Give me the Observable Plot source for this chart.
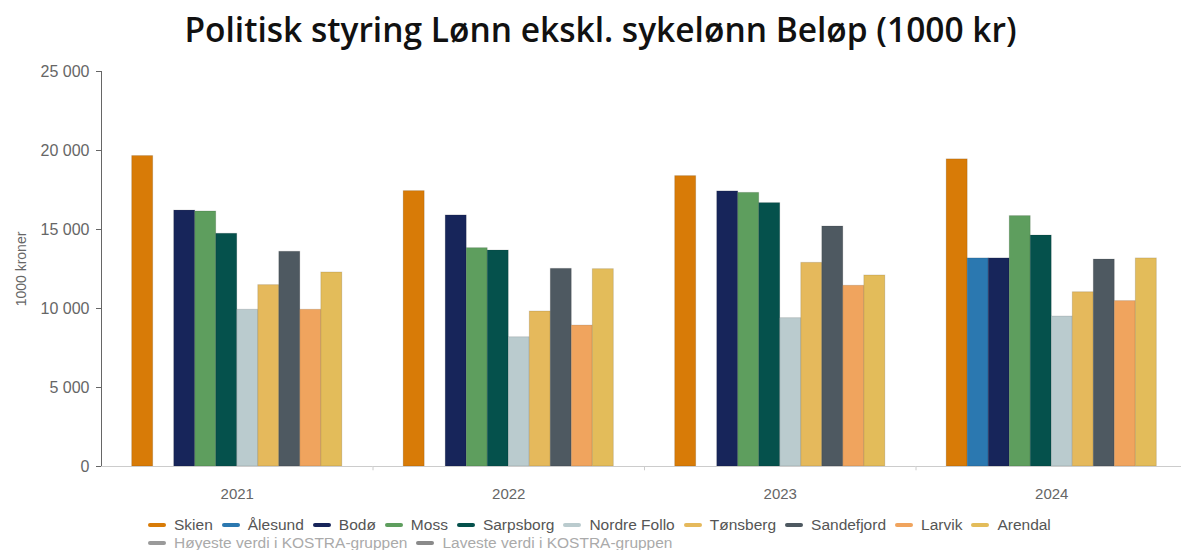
<!DOCTYPE html>
<html>
<head>
<meta charset="utf-8">
<script src="https://cdn.jsdelivr.net/npm/d3@7"></script>
<script src="https://cdn.jsdelivr.net/npm/@observablehq/plot@0.6"></script>
<style>
  html, body { margin: 0; padding: 0; background: #fff; overflow: hidden; }
  #title { height: 60px; line-height: 58px; text-align: center; padding-left: 20px;
    font-family: "Open Sans", sans-serif; font-weight: 600; font-size: 33.5px; color: #111; white-space: nowrap; }
  #legend { font-family: "Liberation Sans", Arial, sans-serif; font-size: 15.5px; line-height: 18px; padding-left: 148px; }
  .row { display: flex; align-items: center; white-space: nowrap; }
  .item { display: flex; align-items: center; margin-right: 9px; }
  .sw { display: inline-block; width: 18px; height: 4px; border-radius: 2px; margin-right: 8px; }
</style>
</head>
<body>
<div id="title">Politisk styring Lønn ekskl. sykelønn Beløp (1000 kr)</div>
<div id="chart"></div>
<div id="legend"></div>
<script>
const years = ["2021", "2022", "2023", "2024"];
const kommuner = ["Skien", "Ålesund", "Bodø", "Moss", "Sarpsborg", "Nordre Follo", "Tønsberg", "Sandefjord", "Larvik", "Arendal"];
const colors = ["#D87B07", "#2B78B0", "#17255A", "#5E9E5E", "#05514C", "#BACBCE", "#E5B95C", "#4E5961", "#F0A45E", "#E3BC5A"];

const skien       = [19650, 17430, 18380, 19440];
const alesund     = [null, null, null, 13170];
const bodo        = [16200, 15890, 17410, 13170];
const moss        = [16140, 13820, 17320, 15850];
const sarpsborg   = [14730, 13670, 16670, 14620];
const nordreFollo = [9920, 8180, 9390, 9490];
const tonsberg    = [11480, 9810, 12890, 11030];
const sandefjord  = [13590, 12510, 15190, 13100];
const larvik      = [9920, 8920, 11440, 10470];
const arendal     = [12280, 12490, 12090, 13170];

const yTicks = [0, 5000, 10000, 15000, 20000, 25000];
const extraLegend = [["Høyeste verdi i KOSTRA-gruppen", "#9a9a9a"], ["Laveste verdi i KOSTRA-gruppen", "#8a8a8a"]];

const series = [skien, alesund, bodo, moss, sarpsborg, nordreFollo, tonsberg, sandefjord, larvik, arendal];
const data = [];
kommuner.forEach((k, i) => years.forEach((y, j) => {
  if (series[i][j] != null) data.push({kommune: k, year: y, value: series[i][j]});
}));

const fmt = d => d3.format(",")(d).replace(/,/g, " ");
const po = 1.46;
const nK = kommuner.length;

const width = 1181, height = 456, mL = 101, mR = -6;
const bandW = (width - mL - mR) / years.length;
const step = bandW / (nK + 2 * po);

const chart = Plot.plot({
  width, height,
  marginLeft: mL, marginRight: mR, marginTop: 11, marginBottom: 50,
  style: {fontFamily: "'Liberation Sans', Arial, sans-serif", fontSize: "15px", color: "#666", background: "#fff"},
  fx: {domain: years, padding: 0, round: false, label: null, axis: "bottom", tickSize: 0, tickPadding: 22},
  x: {domain: kommuner, paddingInner: 0, paddingOuter: po, round: false, axis: null},
  y: {domain: [0, 25000], ticks: yTicks, tickFormat: fmt, tickSize: 5, tickPadding: 7, line: true,
      label: "1000 kroner", labelAnchor: "center", labelOffset: 85, labelArrow: "none"},
  color: {domain: kommuner, range: colors},
  marks: [
    Plot.barY(data, {fx: "year", x: "kommune", y: "value", fill: "kommune", stroke: "rgba(0,0,0,0.12)", strokeWidth: 1, inset: 0}),
    Plot.ruleY([0], {stroke: "#ccc", strokeWidth: 1}),
    Plot.ruleX(years.slice(0, 3), {fx: d => d, x: () => kommuner[nK - 1], dx: (0.5 + po) * step, y1: 0, y2: -270, stroke: "#ccc"})
  ]
});
document.getElementById("chart").appendChild(chart);

const svg = d3.select(chart);
svg.selectAll("text").each(function() {
  const t = d3.select(this);
  if (t.text().includes("1000 kroner")) t.text("1000 kroner");
});
svg.selectAll("[aria-label='y-axis tick label']").style("font-size", "16px");
svg.selectAll("[aria-label='y-axis label']").style("font-size", "14px");

// legend
const legend = document.getElementById("legend");
const row1 = document.createElement("div"); row1.className = "row";
kommuner.forEach((k, i) => {
  const it = document.createElement("div"); it.className = "item";
  it.innerHTML = `<span class="sw" style="background:${colors[i]}"></span><span style="color:#555">${k}</span>`;
  row1.appendChild(it);
});
const row2 = document.createElement("div"); row2.className = "row";
extraLegend.forEach(([t, c]) => {
  const it = document.createElement("div"); it.className = "item";
  it.innerHTML = `<span class="sw" style="background:${c}"></span><span style="color:#aaa">${t}</span>`;
  row2.appendChild(it);
});
legend.appendChild(row1); legend.appendChild(row2);
</script>
</body>
</html>
